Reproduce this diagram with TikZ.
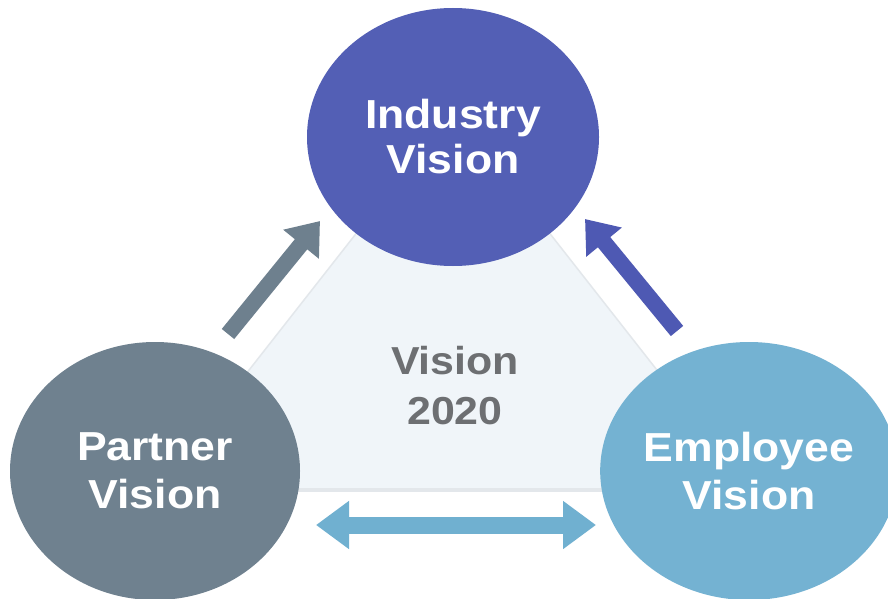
\documentclass[tikz,border=0pt]{standalone}
\usepackage{fontspec}
\newfontfamily\labfont[FakeStretch=1.1]{Liberation Sans}
\usetikzlibrary{shapes.geometric,arrows.meta}
\definecolor{indc}{HTML}{535FB5}
\definecolor{indarrow}{HTML}{4E59B3}
\definecolor{parc}{HTML}{6F818F}
\definecolor{pararrow}{HTML}{6E808E}
\definecolor{empc}{HTML}{74B2D2}
\definecolor{emparrow}{HTML}{70B0D0}
\definecolor{trifill}{HTML}{F0F5F9}
\definecolor{triline}{HTML}{E3E7EB}
\definecolor{centertext}{HTML}{6D6F72}
\tikzset{
  bubble/.style={ellipse, draw=none, inner sep=0pt, minimum width=292pt, minimum height=258pt,
    text=white, align=center, font=\labfont\bfseries\fontsize{40.5}{48}\selectfont},
  fatarrow/.style={line width=16pt, -{Triangle[width=44pt,length=30pt]}},
  dblarrow/.style={line width=17pt, {Triangle[width=46pt,length=33pt]}-{Triangle[width=46pt,length=33pt]}}
}
\begin{document}
\begin{tikzpicture}[x=1pt,y=-1pt]
\useasboundingbox (0,0) rectangle (888,599);
\clip (0,0) rectangle (888,599);
\fill[white] (0,0) rectangle (888,599);
% background triangle
\coordinate (tl) at (155,490);
\coordinate (tt) at (453,110);
\coordinate (tr) at (751,490);
\fill[trifill] (tl) -- (tt) -- (tr) -- cycle;
\draw[triline, line width=1.5pt, line join=round] (tl) -- (tt) -- (tr);
\draw[triline, line width=4pt] (tl) -- (tr);
% circles
\node[bubble, fill=indc, font=\labfont\bfseries\fontsize{40.5}{45}\selectfont] (ind) at (453,137) {Industry\\Vision};
\node[bubble, fill=parc, minimum width=290pt] (par) at (155,471) {Partner\\Vision};
\node[bubble, fill=empc, minimum width=290pt] (emp) at (749,471) {Employee\\Vision};
% centre text
\node[text=centertext, align=center, font=\labfont\bfseries\fontsize{39}{50}\selectfont] (vis) at (455,386) {Vision\\2020};
% arrows
\coordinate (pa1) at (228,334);
\coordinate (pa2) at (320,221);
\draw[fatarrow, draw=pararrow, fill=pararrow] (pa1) -- (pa2);
\coordinate (ea1) at (677,331);
\coordinate (ea2) at (585,219);
\draw[fatarrow, draw=indarrow, fill=indarrow] (ea1) -- (ea2);
\coordinate (ba1) at (316,525);
\coordinate (ba2) at (596,525);
\draw[dblarrow, draw=emparrow, fill=emparrow] (ba1) -- (ba2);
\end{tikzpicture}
\end{document}
